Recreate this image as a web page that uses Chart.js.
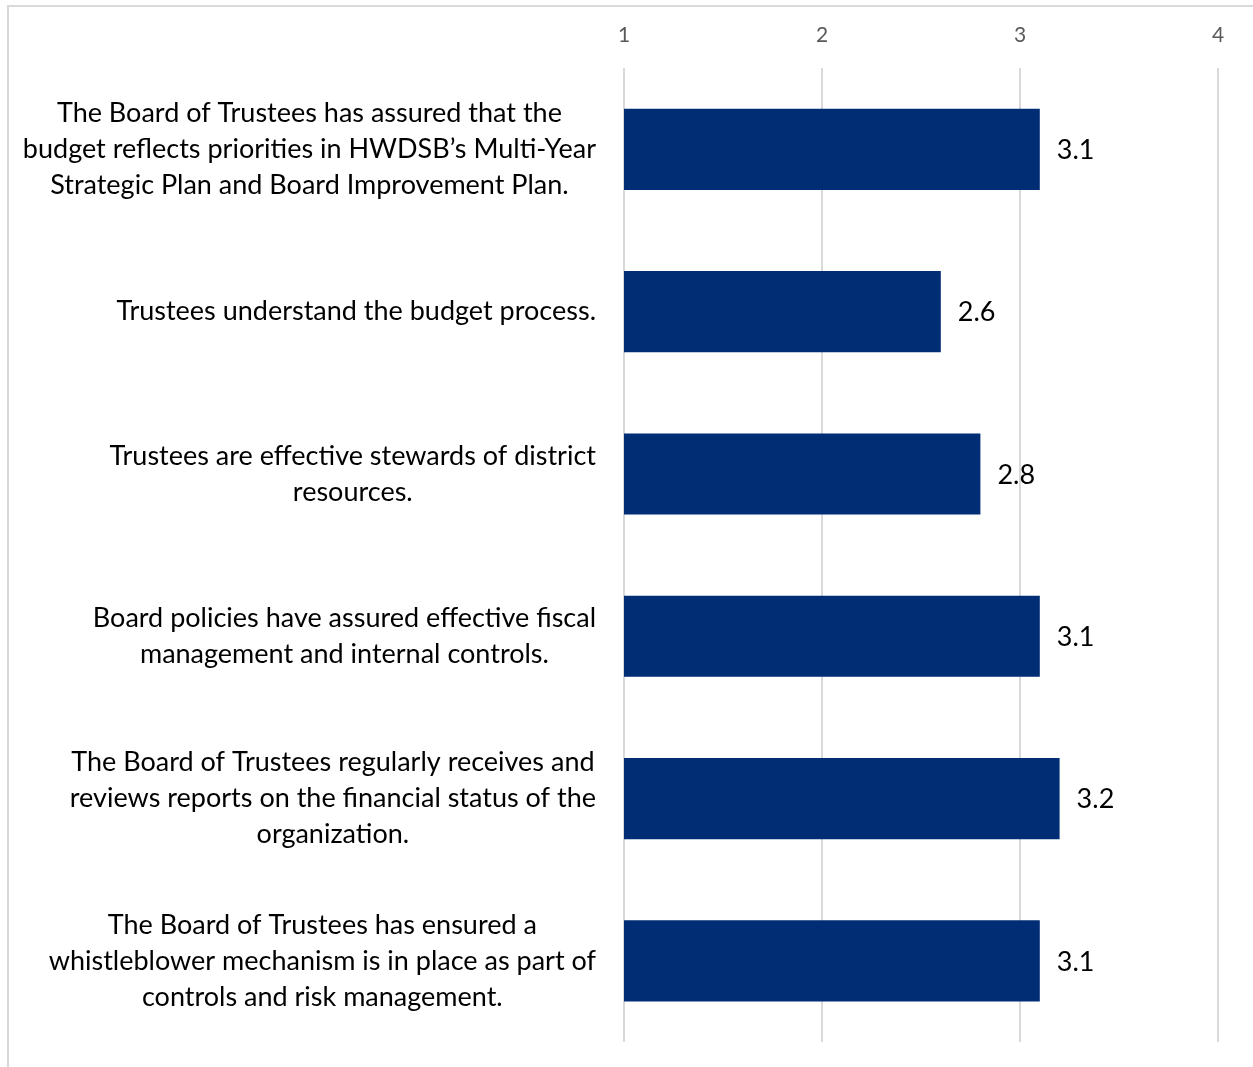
<!DOCTYPE html>
<html>
<head>
<meta charset="utf-8">
<script src="https://cdn.jsdelivr.net/npm/chart.js@4"></script>
<style>
  html, body { margin: 0; padding: 0; background: #fff; }
  #wrap { position: relative; width: 1253px; height: 1067px; overflow: hidden; }
  #frame { position: absolute; left: 7px; top: 5px; width: 1300px; height: 1100px; border: 2px solid #d9d9d9; box-sizing: border-box; }
  #graficoPlan { position: absolute; left: 0; top: 0; }
</style>
</head>
<body>
<div id="wrap">
  <div id="frame"></div>
  <canvas id="graficoPlan" width="1253" height="1067"></canvas>
</div>
<script>
// Preguntas de la encuesta (una linea por elemento)
const preguntas = [
    ['The Board of Trustees has assured that the', 'budget reflects priorities in HWDSB\u2019s Multi-Year', 'Strategic Plan and Board Improvement Plan.'],
    ['Trustees understand the budget process.'],
    ['Trustees are effective stewards of district', 'resources.'],
    ['Board policies have assured effective fiscal', 'management and internal controls.'],
    ['The Board of Trustees regularly receives and', 'reviews reports on the financial status of the', 'organization.'],
    ['The Board of Trustees has ensured a', 'whistleblower mechanism is in place as part of', 'controls and risk management.']
];

const promedios = [3.1, 2.6, 2.8, 3.1, 3.2, 3.1];

const escala = [1, 2, 3, 4];

const fuente = 'Lato, "Open Sans", sans-serif';

// etiquetas de las preguntas, centradas en bloque y pegadas al eje
const etiquetasPreguntas = {
    id: 'etiquetasPreguntas',
    afterDraw(chart) {
        const ctx = chart.ctx;
        const y = chart.scales.y;
        const derecha = chart.chartArea.left - 28;
        ctx.save();
        ctx.font = '27px ' + fuente;
        ctx.fillStyle = '#000';
        ctx.textAlign = 'center';
        ctx.textBaseline = 'middle';
        preguntas.forEach((lineas, i) => {
            const ancho = Math.max(...lineas.map(l => ctx.measureText(l).width));
            const cx = derecha - ancho / 2;
            const cy = y.getPixelForValue(i);
            const alto = 36;
            lineas.forEach((l, j) => {
                ctx.fillText(l, cx, cy + (j - (lineas.length - 1) / 2) * alto);
            });
        });
        ctx.restore();
    }
};

// valor al final de cada barra
const valoresBarras = {
    id: 'valoresBarras',
    afterDatasetsDraw(chart) {
        const ctx = chart.ctx;
        const meta = chart.getDatasetMeta(0);
        ctx.save();
        ctx.font = '27px ' + fuente;
        ctx.fillStyle = '#000';
        ctx.textAlign = 'left';
        ctx.textBaseline = 'middle';
        meta.data.forEach((bar, i) => {
            ctx.fillText(promedios[i].toFixed(1), bar.x + 17, bar.y + 1);
        });
        ctx.restore();
    }
};

let lienzo = document.getElementById('graficoPlan').getContext('2d');

var chart = new Chart(lienzo, {
    type: 'bar',
    data: {
        labels: preguntas.map(p => p.join(' ')),
        datasets: [
            {
                data: promedios,
                backgroundColor: '#002d74',
                borderWidth: 0,
                barPercentage: 0.5,
                categoryPercentage: 1
            }
        ]
    },
    options: {
        indexAxis: 'y',
        responsive: false,
        animation: false,
        layout: { padding: { left: 624, right: 35, top: 3, bottom: 25 } },
        plugins: {
            legend: { display: false },
            tooltip: { enabled: false }
        },
        scales: {
            x: {
                position: 'top',
                min: 1,
                max: 4,
                beginAtZero: false,
                afterBuildTicks: s => { s.ticks = escala.map(v => ({ value: v })); },
                ticks: {
                    color: '#595959',
                    font: { family: fuente, size: 21 },
                    padding: 20
                },
                grid: { color: '#d9d9d9', lineWidth: 2, drawTicks: false },
                border: { display: false }
            },
            y: { display: false }
        }
    },
    plugins: [etiquetasPreguntas, valoresBarras]
});
</script>
</body>
</html>
